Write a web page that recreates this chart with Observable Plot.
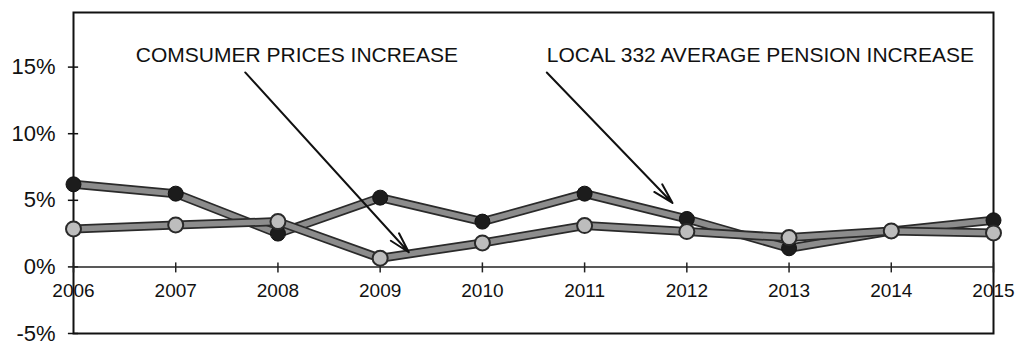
<!DOCTYPE html>
<html>
<head>
<meta charset="utf-8">
<script src="https://cdn.jsdelivr.net/npm/d3@7"></script>
<script src="https://cdn.jsdelivr.net/npm/@observablehq/plot@0.6"></script>
<style>
  html, body { margin: 0; padding: 0; background: #fff; overflow: hidden; }
  #chart svg { display: block; }
</style>
</head>
<body>
<div id="chart"></div>
<script>
const years = [2006, 2007, 2008, 2009, 2010, 2011, 2012, 2013, 2014, 2015];
const pensionIncrease = [6.2, 5.5, 2.5, 5.2, 3.4, 5.5, 3.6, 1.4, 2.7, 3.5];
const consumerPrices = [2.85, 3.15, 3.4, 0.65, 1.8, 3.1, 2.65, 2.2, 2.7, 2.55];
const yTicks = [-5, 0, 5, 10, 15];
const labels = ["COMSUMER PRICES INCREASE", "LOCAL 332 AVERAGE PENSION INCREASE"];
const labelX = [2006.61, 2010.63];
const labelY = [15.9, 15.9];
const arrowFrom = [[2007.68, 14.6], [2010.63, 14.6]];
const arrowTo = [[2009.28, 1.1], [2011.86, 4.8]];

const pension = years.map((year, i) => ({year, value: pensionIncrease[i]}));
const consumer = years.map((year, i) => ({year, value: consumerPrices[i]}));
const notes = labels.map((text, i) => ({text, x: labelX[i], y: labelY[i]}));
const arrows = arrowFrom.map((a, i) => ({x1: a[0], y1: a[1], x2: arrowTo[i][0], y2: arrowTo[i][1]}));
const font = "'Liberation Sans', Arial, Helvetica, sans-serif";

const chart = Plot.plot({
  width: 1015,
  height: 341,
  marginLeft: 73,
  marginRight: 22,
  marginTop: 12,
  marginBottom: 8,
  style: {fontFamily: font, background: "#fff", color: "#111"},
  x: {domain: [2006, 2015], axis: null},
  y: {domain: [-5, 19.1], axis: null},
  marks: [
    Plot.frame({stroke: "#111", strokeWidth: 2}),
    Plot.axisY({ticks: yTicks, tickSize: 0, tickPadding: 18, fontSize: 22, tickFormat: d => d + "%", fill: "#111"}),
    Plot.ruleY(yTicks, {x1: 2006 - 0.05, x2: 2006 + 0.05, stroke: "#111", strokeWidth: 1.5}),
    Plot.ruleY([0], {stroke: "#222", strokeWidth: 1.5}),
    Plot.ruleX(years, {y1: -0.45, y2: 0.3, stroke: "#222", strokeWidth: 1.5}),
    Plot.text(years, {x: d => d, y: 0, dy: 24, text: d => String(d), fontSize: 19, fill: "#111"}),
    // pension (dark)
    Plot.line(pension, {x: "year", y: "value", stroke: "#2a2a2a", strokeWidth: 9}),
    Plot.line(pension, {x: "year", y: "value", stroke: "#8c8c8c", strokeWidth: 5.5}),
    // consumer prices (light)
    Plot.line(consumer, {x: "year", y: "value", stroke: "#2a2a2a", strokeWidth: 9}),
    Plot.line(consumer, {x: "year", y: "value", stroke: "#8c8c8c", strokeWidth: 5.5}),
    Plot.dot(pension, {x: "year", y: "value", r: 7.5, fill: "#1c1c1c", stroke: "#111", strokeWidth: 1}),
    Plot.dot(consumer, {x: "year", y: "value", r: 7.5, fill: "#bdbdbd", stroke: "#2a2a2a", strokeWidth: 2}),
    Plot.arrow(arrows, {x1: "x1", y1: "y1", x2: "x2", y2: "y2", stroke: "#111", strokeWidth: 2, headLength: 16, headAngle: 30}),
    Plot.text(notes, {x: "x", y: "y", text: "text", textAnchor: "start", fontSize: 21, fill: "#111"})
  ]
});
document.getElementById("chart").appendChild(chart);
</script>
</body>
</html>
